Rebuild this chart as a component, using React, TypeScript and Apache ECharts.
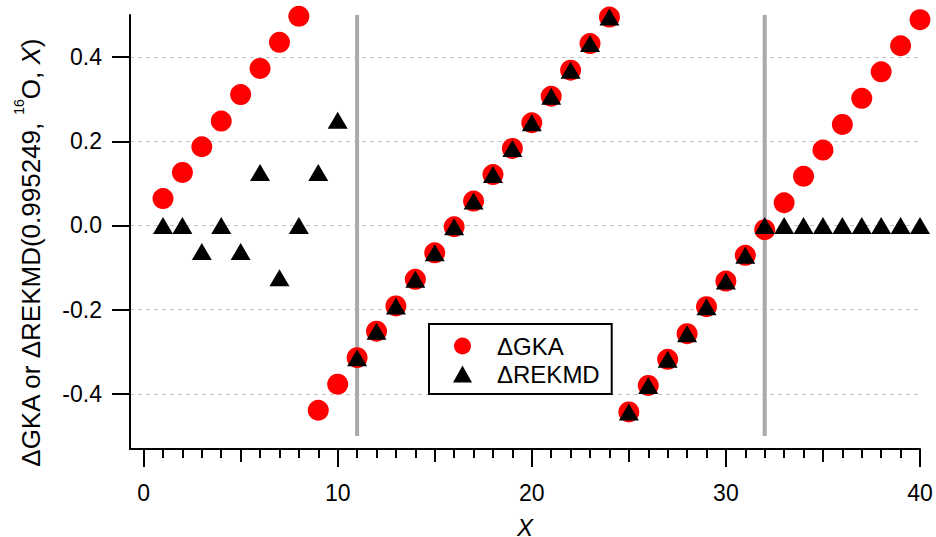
import React, { useEffect, useRef } from "react";
import * as echarts from "echarts";

// ---- data ----
const xValues = [
  1, 2, 3, 4, 5, 6, 7, 8, 9, 10,
  11, 12, 13, 14, 15, 16, 17, 18, 19, 20,
  21, 22, 23, 24, 25, 26, 27, 28, 29, 30,
  31, 32, 33, 34, 35, 36, 37, 38, 39, 40,
];
const gkaValues = [
  0.064, 0.126, 0.187, 0.248, 0.311, 0.373, 0.435, 0.497, -0.439, -0.377,
  -0.314, -0.251, -0.191, -0.128, -0.065, -0.003, 0.058, 0.121, 0.183, 0.244,
  0.307, 0.369, 0.432, 0.495, -0.443, -0.38, -0.318, -0.257, -0.193, -0.132,
  -0.071, -0.01, 0.054, 0.117, 0.179, 0.24, 0.302, 0.365, 0.427, 0.489,
];
const rekmdValues = [
  0, 0, -0.062, 0, -0.062, 0.126, -0.124, 0, 0.126, 0.25,
  -0.314, -0.251, -0.191, -0.128, -0.065, -0.003, 0.058, 0.121, 0.183, 0.244,
  0.307, 0.369, 0.432, 0.495, -0.443, -0.38, -0.318, -0.257, -0.193, -0.132,
  -0.071, 0, 0, 0, 0, 0, 0, 0, 0, 0,
];
const verticalLineX = [11, 32];
const verticalLineSpan = [-0.5, 0.5];

const xMajorTicks = [0, 10, 20, 30, 40];
const xMediumTicks = [5, 15, 25, 35];
const xMinorTicks = [
  1, 2, 3, 4, 6, 7, 8, 9, 11, 12, 13, 14, 16, 17, 18, 19,
  21, 22, 23, 24, 26, 27, 28, 29, 31, 32, 33, 34, 36, 37, 38, 39,
];
const yTicks = [-0.4, -0.2, 0, 0.2, 0.4];

const seriesNames = ["ΔGKA", "ΔREKMD"];

const FONT = "'Liberation Sans', Arial, sans-serif";
const X_MIN = -0.7;
const X_MAX = 40;
const Y_MIN = -0.531;
const Y_MAX = 0.5;

function buildOption() {
  const gridBox = {
    left: 130,
    right: 16,
    top: 15,
    bottom: 88,
    containLabel: false,
    outerBoundsMode: "none",
  };
  const tickLine = { color: "#000", width: 2 };

  const extraX = (gridIndex: number, ticks: number[], length: number) => ({
    type: "value",
    gridIndex,
    min: X_MIN,
    max: X_MAX,
    position: "bottom",
    axisLine: { show: false, onZero: false },
    axisTick: { show: true, customValues: ticks, length, lineStyle: tickLine },
    axisLabel: { show: false },
    splitLine: { show: false },
  });

  const hiddenY = (gridIndex: number) => ({
    type: "value",
    gridIndex,
    min: Y_MIN,
    max: Y_MAX,
    show: false,
  });

  return {
    animation: false,
    backgroundColor: "#fff",
    textStyle: { fontFamily: FONT },
    grid: [gridBox, gridBox, gridBox],
    legend: {
      orient: "vertical",
      left: 429,
      top: 324,
      padding: [10, 12, 8, 24],
      itemGap: 4,
      itemWidth: 19,
      itemHeight: 17,
      borderColor: "#000",
      borderWidth: 2,
      backgroundColor: "#fff",
      textStyle: { fontSize: 24, color: "#000", fontFamily: FONT, padding: [0, 0, 0, 20] },
      data: [
        { name: seriesNames[0], icon: "circle", itemStyle: { color: "#ff0000" } },
        { name: seriesNames[1], icon: "triangle", itemStyle: { color: "#000" } },
      ],
    },
    xAxis: [
      {
        type: "value",
        gridIndex: 0,
        min: X_MIN,
        max: X_MAX,
        position: "bottom",
        axisLine: { show: true, onZero: false, lineStyle: tickLine },
        axisTick: { show: true, customValues: xMajorTicks, length: 18, lineStyle: tickLine },
        axisLabel: {
          customValues: xMajorTicks,
          fontSize: 23,
          color: "#000",
          margin: 32,
          fontFamily: FONT,
        },
        splitLine: { show: false },
        name: "X",
        nameLocation: "middle",
        nameGap: 66,
        nameTextStyle: { fontSize: 24, fontStyle: "italic", color: "#000", fontFamily: FONT },
      },
      extraX(1, xMediumTicks, 13),
      extraX(2, xMinorTicks, 9),
    ],
    yAxis: [
      {
        type: "value",
        gridIndex: 0,
        min: Y_MIN,
        max: Y_MAX,
        axisLine: { show: true, onZero: false, lineStyle: tickLine },
        axisTick: { show: true, customValues: yTicks, length: 18, lineStyle: tickLine },
        axisLabel: {
          customValues: yTicks,
          fontSize: 23,
          color: "#000",
          margin: 28,
          fontFamily: FONT,
          formatter: (v: number) => v.toFixed(1),
        },
        splitLine: {
          show: true,
          lineStyle: { type: [4, 4], color: "#c4c4c4", width: 1 },
        },
        name: "{t|ΔGKA or ΔREKMD(0.995249, }{s|16}{t|O, }{i|X}{t|)}",
        nameLocation: "middle",
        nameRotate: 90,
        nameGap: 80,
        nameTextStyle: {
          color: "#000",
          fontFamily: FONT,
          padding: [0, 42, 0, 0],
          rich: {
            t: { fontSize: 26, color: "#000", fontFamily: FONT },
            i: { fontSize: 26, color: "#000", fontStyle: "italic", fontFamily: FONT },
            s: { fontSize: 14, color: "#000", fontFamily: FONT, padding: [0, 0, 24, 0] },
          },
        },
      },
      hiddenY(1),
      hiddenY(2),
    ],
    series: [
      ...verticalLineX.map((xv) => ({
        type: "line",
        xAxisIndex: 0,
        yAxisIndex: 0,
        silent: true,
        symbol: "none",
        z: 1,
        lineStyle: { color: "#aaaaaa", width: 4 },
        data: verticalLineSpan.map((yv) => [xv, yv]),
      })),
      {
        name: seriesNames[0],
        type: "scatter",
        xAxisIndex: 0,
        yAxisIndex: 0,
        symbol: "circle",
        symbolSize: 21,
        z: 3,
        itemStyle: { color: "#ff0000", opacity: 1 },
        data: xValues.map((xv, i) => [xv, gkaValues[i]]),
      },
      {
        name: seriesNames[1],
        type: "scatter",
        xAxisIndex: 0,
        yAxisIndex: 0,
        symbol: "triangle",
        symbolSize: [20, 17],
        z: 4,
        itemStyle: { color: "#000", opacity: 1 },
        data: xValues.map((xv, i) => [xv, rekmdValues[i]]),
      },
    ],
  };
}

export default function App() {
  const ref = useRef<HTMLDivElement>(null);
  useEffect(() => {
    if (!ref.current) return;
    const chart = echarts.init(ref.current, null, { renderer: "svg" });
    chart.setOption(buildOption() as any);
    return () => {
      chart.dispose();
    };
  }, []);
  return (
    <div
      ref={ref}
      style={{ position: "fixed", left: 0, top: 0, width: 936, height: 537, background: "#fff" }}
    />
  );
}
